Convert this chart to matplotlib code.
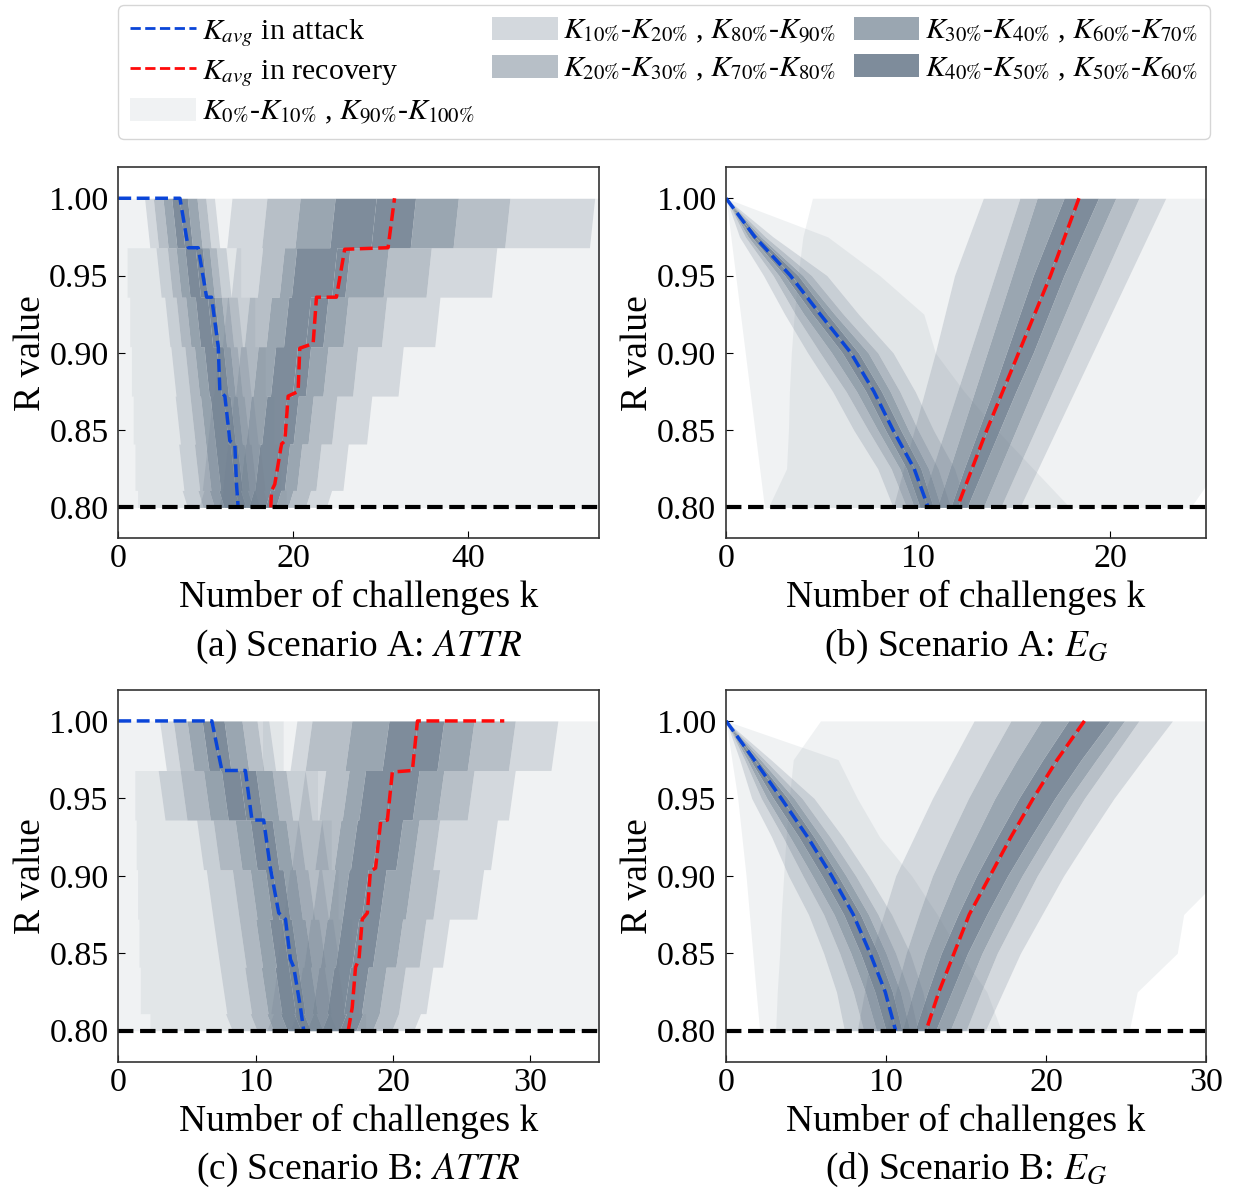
import numpy as np
import matplotlib
matplotlib.use("Agg")
import matplotlib.pyplot as plt
from matplotlib.lines import Line2D
from matplotlib.patches import Patch

plt.rcParams['font.family'] = ['Liberation Serif', 'DejaVu Serif']
plt.rcParams['mathtext.fontset'] = 'stix'

# ---------------- (a) Scenario A: ATTR (discrete R levels) ----------------
a_levels = [1.0, 0.968, 0.936, 0.904, 0.872, 0.841, 0.811, 0.8]
# rows = level intervals (value at the top of the interval), cols = K0..K100
a_attack = [
    [0.0, 3.0, 4.0, 5.1, 6.1, 7.0, 7.9, 9.0, 10.0, 11.0, 12.2],
    [0.0, 4.3, 5.6, 6.6, 7.6, 8.8, 9.6, 10.4, 11.2, 12.3, 14.0],
    [0.0, 5.3, 6.6, 7.7, 8.8, 10.2, 11.0, 11.8, 12.6, 13.6, 15.6],
    [0.0, 6.0, 7.6, 8.7, 9.8, 11.2, 12.0, 12.8, 13.6, 14.6, 16.8],
    [0.0, 6.5, 8.2, 9.4, 10.5, 12.0, 12.8, 13.6, 14.4, 15.4, 17.8],
    [0.0, 6.9, 8.7, 10.0, 11.1, 12.8, 13.6, 14.4, 15.2, 16.2, 18.6],
    [0.0, 7.3, 9.1, 10.4, 11.5, 13.3, 14.0, 14.8, 15.6, 16.6, 19.2],
]
a_recovery = [
    [12.2, 13.0, 17.0, 20.8, 24.8, 29.5, 34.0, 38.9, 44.8, 54.5, 60.0],
    [1.0, 13.5, 16.5, 19.0, 20.4, 25.0, 26.5, 30.9, 35.8, 43.3, 60.0],
    [1.3, 12.5, 15.0, 17.5, 19.5, 22.0, 24.0, 26.3, 30.7, 36.8, 60.0],
    [1.5, 11.5, 14.0, 16.0, 18.0, 20.5, 22.0, 24.0, 27.4, 32.6, 60.0],
    [1.7, 10.8, 13.2, 15.2, 17.0, 19.3, 20.6, 22.3, 25.0, 29.0, 60.0],
    [1.9, 10.2, 12.5, 14.5, 16.2, 18.4, 19.6, 21.0, 23.2, 26.3, 60.0],
    [2.2, 9.8, 12.0, 13.8, 15.5, 17.4, 18.6, 20.0, 22.0, 24.4, 60.0],
]
a_blue_k = [0, 7.05, 8.0, 9.14, 10.1, 10.67, 11.43, 11.62, 12.19, 12.76, 13.33, 13.52, 13.71]
a_blue_r = [1.0, 1.0, 0.968, 0.968, 0.936, 0.936, 0.904, 0.875, 0.872, 0.843, 0.841, 0.815, 0.80]
a_red_k = [17.45, 17.52, 17.9, 18.67, 19.05, 19.43, 20.57, 20.76, 22.29, 22.67, 24.95, 25.9, 30.86, 31.6]
a_red_r = [0.80, 0.8105, 0.815, 0.841, 0.843, 0.872, 0.875, 0.903, 0.906, 0.936, 0.936, 0.967, 0.968, 1.0]

# ---------------- (b) Scenario A: E_G ----------------
b_levels = [1.0, 0.975, 0.95, 0.925, 0.9, 0.875, 0.85, 0.825, 0.8]
b_attack = [
    [0.0, 0.0, 0.0, 0.0, 0.0, 0.0, 0.0, 0.0, 0.0, 0.0, 0.0],
    [0.25, 0.7, 1.0, 1.15, 1.32, 1.5, 1.68, 1.82, 2.05, 2.45, 5.3],
    [0.5, 1.95, 2.45, 2.75, 3.05, 3.4, 3.75, 4.0, 4.45, 5.25, 8.0],
    [0.75, 3.05, 3.6, 4.05, 4.5, 4.9, 5.28, 5.65, 6.1, 6.9, 10.3],
    [1.0, 4.25, 4.9, 5.5, 6.05, 6.5, 6.9, 7.4, 7.9, 8.7, 10.9],
    [1.25, 5.55, 6.25, 6.8, 7.28, 7.7, 8.1, 8.55, 9.05, 9.85, 12.4],
    [1.5, 6.65, 7.4, 7.9, 8.3, 8.7, 9.1, 9.5, 10.0, 10.8, 14.1],
    [1.75, 7.9, 8.6, 9.05, 9.4, 9.8, 10.15, 10.55, 11.05, 11.9, 16.0],
    [2.0, 8.7, 9.4, 9.8, 10.1, 10.5, 10.8, 11.2, 11.7, 12.55, 17.9],
]
b_recovery = [
    [4.5, 13.4, 15.3, 16.2, 17.6, 18.35, 19.4, 20.3, 21.5, 22.9, 27.0],
    [4.0, 12.65, 14.65, 15.55, 16.8, 17.6, 18.5, 19.4, 20.6, 21.95, 27.0],
    [3.75, 11.9, 14.0, 14.9, 16.0, 16.8, 17.6, 18.5, 19.7, 21.0, 27.0],
    [3.55, 11.4, 13.35, 14.25, 15.3, 16.0, 16.8, 17.65, 18.8, 20.05, 27.0],
    [3.4, 10.9, 12.7, 13.6, 14.6, 15.2, 16.0, 16.8, 17.9, 19.1, 27.0],
    [3.3, 10.35, 12.05, 12.95, 13.9, 14.4, 15.1, 15.95, 17.0, 18.15, 27.0],
    [3.25, 9.8, 11.4, 12.3, 13.15, 13.6, 14.25, 15.1, 16.1, 17.2, 27.0],
    [3.15, 9.25, 10.75, 11.65, 12.4, 12.8, 13.4, 14.25, 15.2, 16.25, 25.6],
    [2.2, 8.7, 10.1, 11.0, 11.7, 12.05, 12.55, 13.4, 14.3, 15.3, 24.2],
]
b_blue_r = [1.0, 0.975, 0.95, 0.925, 0.9, 0.875, 0.85, 0.825, 0.8]
b_blue_k = [0, 1.5, 3.35, 4.9, 6.5, 7.7, 8.7, 9.8, 10.53]
b_red_r = [1.0, 0.95, 0.9, 0.85, 0.8]
b_red_k = [18.38, 16.9, 15.24, 13.58, 12.04]

# ---------------- (c) Scenario B: ATTR ----------------
c_levels = [1.0, 0.968, 0.936, 0.904, 0.872, 0.841, 0.811, 0.8]
c_attack = [
    [0.0, 3.0, 4.0, 5.0, 6.1, 6.9, 7.7, 9.0, 10.1, 10.95, 12.0],
    [0.0, 2.9, 4.5, 6.2, 7.5, 8.8, 10.0, 11.2, 12.2, 13.6, 14.5],
    [0.0, 5.7, 6.9, 8.5, 9.6, 10.5, 11.2, 12.2, 13.1, 14.8, 15.5],
    [0.0, 6.4, 8.3, 9.6, 10.7, 11.2, 12.0, 12.9, 13.8, 14.8, 16.0],
    [0.0, 6.9, 8.8, 10.0, 11.0, 11.9, 12.6, 13.6, 14.6, 15.6, 17.0],
    [0.0, 7.4, 9.2, 10.4, 11.4, 12.4, 13.1, 14.0, 15.0, 16.0, 17.5],
    [0.0, 7.8, 9.6, 10.8, 11.8, 12.8, 13.5, 14.4, 15.4, 16.4, 18.0],
]
c_recovery = [
    [10.5, 13.0, 14.1, 17.0, 19.7, 21.8, 23.7, 25.9, 28.9, 32.0, 38.0],
    [1.2, 13.6, 15.1, 16.8, 18.0, 20.0, 21.9, 23.7, 25.9, 28.9, 38.0],
    [1.3, 13.1, 14.8, 16.2, 17.4, 19.0, 20.7, 21.9, 23.4, 27.6, 38.0],
    [1.4, 12.5, 14.6, 15.8, 16.8, 18.2, 19.5, 21.4, 23.4, 26.6, 38.0],
    [1.5, 12.0, 14.0, 15.2, 16.3, 17.5, 19.0, 20.7, 22.4, 24.1, 38.0],
    [1.6, 11.6, 13.4, 14.6, 15.7, 16.9, 18.2, 19.5, 20.9, 22.9, 38.0],
    [2.3, 11.3, 13.0, 14.2, 15.3, 16.6, 17.8, 19.0, 20.4, 22.0, 38.0],
]
c_blue_k = [0, 6.81, 7.54, 9.25, 9.73, 10.58, 11.07, 11.68, 12.17, 12.53, 12.77, 13.26, 13.5]
c_blue_r = [1.0, 1.0, 0.968, 0.968, 0.936, 0.936, 0.905, 0.876, 0.872, 0.846, 0.841, 0.815, 0.8]
c_red_k = [16.74, 17.03, 17.27, 17.52, 17.76, 18.13, 18.35, 18.73, 19.1, 19.59, 19.95, 21.41, 21.78, 28.1]
c_red_r = [0.8, 0.815, 0.841, 0.846, 0.872, 0.876, 0.903, 0.905, 0.935, 0.936, 0.967, 0.968, 1.0, 1.0]

# ---------------- (d) Scenario B: E_G ----------------
d_levels = [1.0, 0.975, 0.95, 0.925, 0.9, 0.875, 0.85, 0.825, 0.8]
d_attack = [
    [0.0, 0.0, 0.0, 0.0, 0.0, 0.0, 0.0, 0.0, 0.0, 0.0, 0.0],
    [0.36, 0.85, 1.15, 1.32, 1.5, 1.75, 1.95, 2.15, 2.4, 2.8, 7.0],
    [0.73, 1.6, 2.2, 2.55, 2.95, 3.45, 3.85, 4.25, 4.75, 5.5, 8.2],
    [0.99, 2.85, 3.55, 4.0, 4.55, 5.1, 5.5, 5.95, 6.5, 7.3, 9.6],
    [1.25, 3.9, 4.8, 5.4, 6.0, 6.6, 7.0, 7.5, 8.1, 8.9, 11.6],
    [1.46, 5.15, 6.1, 6.75, 7.35, 7.95, 8.4, 8.9, 9.5, 10.35, 13.2],
    [1.67, 6.1, 7.1, 7.8, 8.4, 9.0, 9.5, 10.0, 10.6, 11.5, 14.6],
    [1.88, 6.9, 7.95, 8.7, 9.3, 9.95, 10.4, 10.9, 11.45, 12.3, 16.3],
    [2.1, 7.4, 8.6, 9.4, 10.0, 10.6, 11.0, 11.5, 12.0, 12.8, 17.2],
]
d_recovery = [
    [5.9, 15.5, 17.8, 19.7, 21.4, 22.4, 24.0, 24.9, 25.8, 27.9, 32.0],
    [4.2, 14.2, 16.45, 18.2, 19.8, 20.7, 22.2, 23.15, 24.1, 26.05, 32.0],
    [3.95, 12.9, 15.15, 16.8, 18.3, 19.2, 20.55, 21.45, 22.4, 24.25, 32.0],
    [3.75, 11.75, 14.0, 15.6, 16.95, 17.8, 19.05, 19.95, 20.9, 22.65, 32.0],
    [3.6, 10.6, 12.9, 14.4, 15.65, 16.5, 17.6, 18.5, 19.45, 21.1, 31.0],
    [3.45, 9.85, 12.05, 13.4, 14.5, 15.2, 16.3, 17.2, 18.2, 19.75, 28.6],
    [3.35, 9.1, 11.25, 12.45, 13.45, 14.25, 15.1, 16.0, 16.95, 18.4, 28.2],
    [3.2, 8.65, 10.6, 11.7, 12.6, 13.3, 14.1, 15.0, 15.95, 17.3, 25.7],
    [3.1, 8.2, 10.0, 11.0, 11.8, 12.5, 13.1, 14.0, 15.0, 16.2, 25.2],
]
d_blue_r = [1.0, 0.975, 0.95, 0.925, 0.9, 0.875, 0.85, 0.825, 0.8]
d_blue_k = [0, 1.75, 3.45, 5.1, 6.6, 7.95, 9.0, 9.95, 10.6]
d_red_r = [1.0, 0.975, 0.95, 0.925, 0.9, 0.875, 0.85, 0.825, 0.8]
d_red_k = [22.4, 20.7, 19.2, 17.8, 16.5, 15.2, 14.25, 13.3, 12.5]

band_color = '#708090'
band_alpha = [0.1, 0.3, 0.5, 0.7, 0.9]
blue = '#0a45d8'
red = '#ff0a0a'


def step_path(levels, vals, lean):
    ys, xs = [], []
    for i, v in enumerate(vals):
        ys += [levels[i], levels[i + 1]]
        xs += [v, v + lean]
    return ys, xs


def draw_bands(ax, levels, edges, lean=None):
    E = np.array(edges)
    for j in range(10):
        a = band_alpha[min(j, 9 - j)]
        if lean is None:
            ys, lo, hi = levels, E[:, j], E[:, j + 1]
        else:
            # outer edges (K0, K100) stay upright, inner edges lean
            l_lo = 0 if j == 0 else lean
            l_hi = 0 if j + 1 == 10 else lean
            ys, lo = step_path(levels, E[:, j], l_lo)
            _, hi = step_path(levels, E[:, j + 1], l_hi)
        ax.fill_betweenx(ys, lo, hi, color=band_color, alpha=a, lw=0)


fig = plt.figure(figsize=(12.39, 11.91), dpi=100)
pos = {
    'a': [0.0955, 0.548, 0.388, 0.3115],
    'b': [0.586, 0.548, 0.3874, 0.3115],
    'c': [0.0955, 0.1086, 0.388, 0.3121],
    'd': [0.586, 0.1086, 0.3874, 0.3121],
}
panels = [
    ('a', a_levels, a_attack, a_recovery, 0.6, a_blue_k, a_blue_r, a_red_k, a_red_r,
     55, [0, 20, 40], '(a) Scenario A: $\\mathit{ATTR}$'),
    ('b', b_levels, b_attack, b_recovery, None, b_blue_k, b_blue_r, b_red_k, b_red_r,
     25, [0, 10, 20], '(b) Scenario A: $E_G$'),
    ('c', c_levels, c_attack, c_recovery, 0.5, c_blue_k, c_blue_r, c_red_k, c_red_r,
     35, [0, 10, 20, 30], '(c) Scenario B: $\\mathit{ATTR}$'),
    ('d', d_levels, d_attack, d_recovery, None, d_blue_k, d_blue_r, d_red_k, d_red_r,
     30, [0, 10, 20, 30], '(d) Scenario B: $E_G$'),
]

for key, lev, att, rec, lean, bk, br, rk, rr, xmax, xt, title in panels:
    ax = fig.add_axes(pos[key])
    draw_bands(ax, lev, att, lean)
    draw_bands(ax, lev, rec, None if lean is None else -lean)
    ax.plot(bk, br, color=blue, ls='--', lw=2.5)
    ax.plot(rk, rr, color=red, ls='--', lw=2.5)
    ax.axhline(0.8, color='black', ls='--', lw=3)
    ax.set_xlim(0, xmax)
    ax.set_ylim(0.78, 1.02)
    ax.set_xticks(xt)
    ax.set_yticks([0.80, 0.85, 0.90, 0.95, 1.00])
    ax.set_yticklabels(['0.80', '0.85', '0.90', '0.95', '1.00'])
    ax.tick_params(direction='in', length=5, labelsize=24.5)
    ax.tick_params(axis='x', pad=4)
    ax.tick_params(axis='y', pad=7)
    for s in ax.spines.values():
        s.set_color('#333333')
        s.set_linewidth(1.2)
    ax.text(0.5, -0.16, 'Number of challenges k', transform=ax.transAxes,
            ha='center', va='center', fontsize=27)
    ax.text(0.5, -0.292, title, transform=ax.transAxes,
            ha='center', va='center', fontsize=27)
    ax.text(-0.183, 0.5, 'R value', transform=ax.transAxes, rotation=90,
            ha='center', va='center', fontsize=27)

handles = [
    Line2D([], [], color=blue, ls='--', lw=2),
    Line2D([], [], color=red, ls='--', lw=2),
    Patch(facecolor=band_color, alpha=band_alpha[0], edgecolor='none'),
    Patch(facecolor=band_color, alpha=band_alpha[1], edgecolor='none'),
    Patch(facecolor=band_color, alpha=band_alpha[2], edgecolor='none'),
    Patch(facecolor=band_color, alpha=band_alpha[3], edgecolor='none'),
    Patch(facecolor=band_color, alpha=band_alpha[4], edgecolor='none'),
]
labels = [
    '$K_{avg}$ in attack',
    '$K_{avg}$ in recovery',
    '$K_{\\mathit{0\\%}}$-$K_{\\mathit{10\\%}}$ , $K_{\\mathit{90\\%}}$-$K_{\\mathit{100\\%}}$',
    '$K_{\\mathit{10\\%}}$-$K_{\\mathit{20\\%}}$ , $K_{\\mathit{80\\%}}$-$K_{\\mathit{90\\%}}$',
    '$K_{\\mathit{20\\%}}$-$K_{\\mathit{30\\%}}$ , $K_{\\mathit{70\\%}}$-$K_{\\mathit{80\\%}}$',
    '$K_{\\mathit{30\\%}}$-$K_{\\mathit{40\\%}}$ , $K_{\\mathit{60\\%}}$-$K_{\\mathit{70\\%}}$',
    '$K_{\\mathit{40\\%}}$-$K_{\\mathit{50\\%}}$ , $K_{\\mathit{50\\%}}$-$K_{\\mathit{60\\%}}$',
]
leg = fig.legend(handles, labels, loc='upper left', bbox_to_anchor=(0.0952, 0.9958, 0.8814, 0),
                 mode='expand', ncol=3, fontsize=21.5, handlelength=2.2, handleheight=0.78,
                 handletextpad=0.2, labelspacing=0.3, borderaxespad=0, fancybox=True,
                 edgecolor='#cccccc', columnspacing=0.6, borderpad=0.4)

fig.savefig('out.png', dpi=100)
